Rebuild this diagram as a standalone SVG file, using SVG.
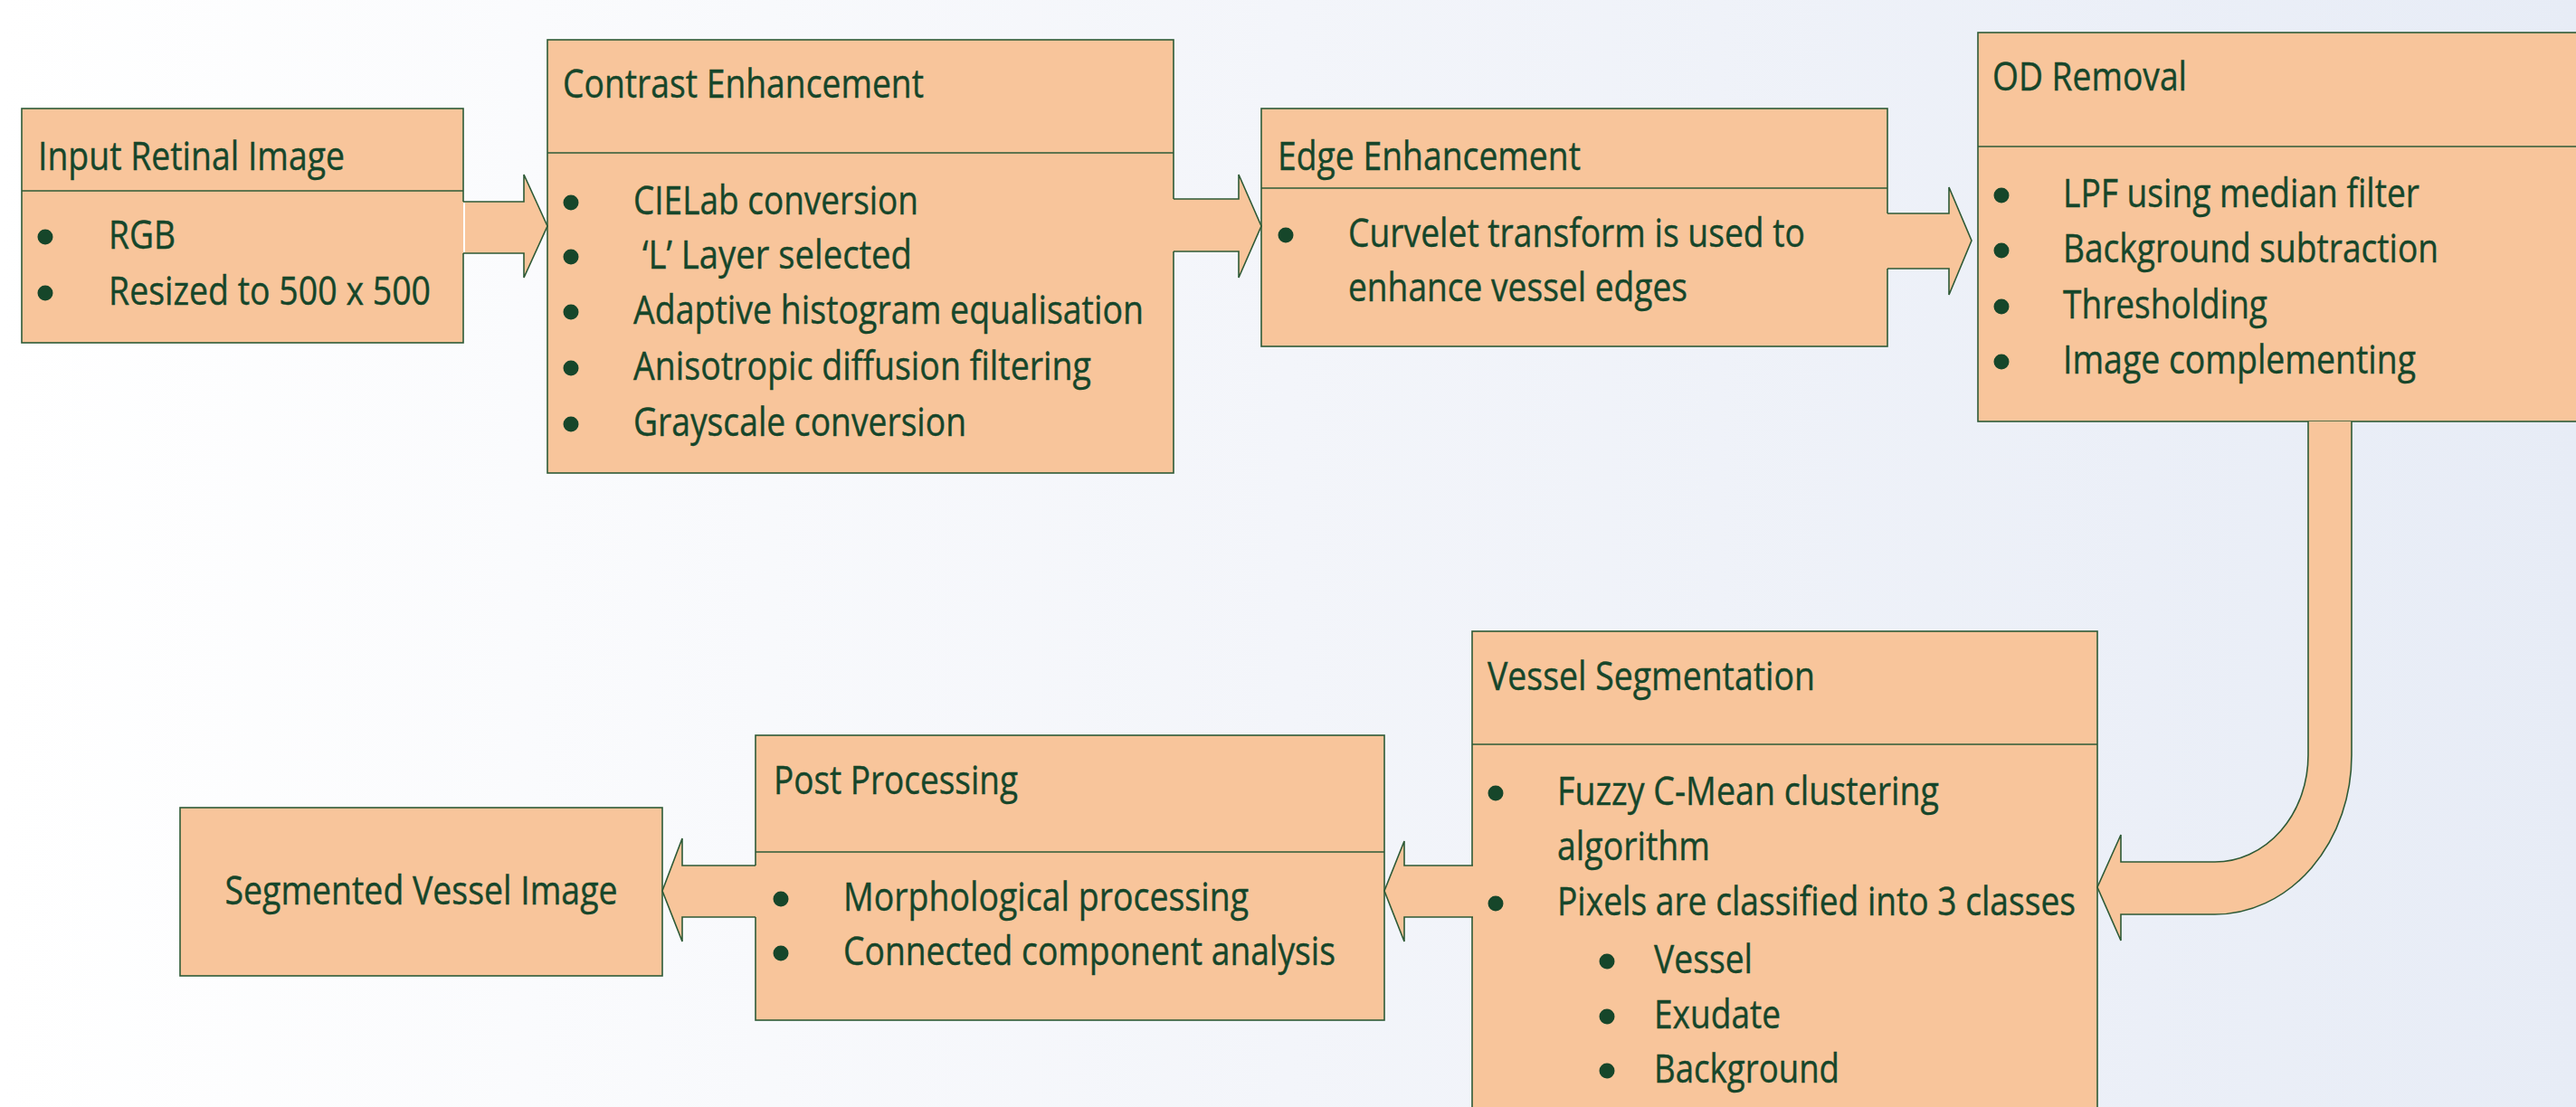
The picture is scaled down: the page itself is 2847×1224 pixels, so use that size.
<svg xmlns="http://www.w3.org/2000/svg" width="2847" height="1224" viewBox="0 0 2847 1224">
  <defs>
    <linearGradient id="bg" x1="0" y1="0" x2="1" y2="0">
      <stop offset="0" stop-color="#FFFFFF"/>
      <stop offset="0.5" stop-color="#F3F5FA"/>
      <stop offset="1" stop-color="#E7ECF6"/>
    </linearGradient>
    <style>
      .box { fill: #F8C59B; stroke: #2E5A36; stroke-width: 1.6; }
      .div { stroke: #2E5A36; stroke-width: 1.6; fill: none; }
      .arrow { fill: #F8C59B; stroke: #2E5A36; stroke-width: 1.6; stroke-linejoin: miter; }
      .cover { fill: #F8C59B; stroke: none; }
      .t { font-family: "Open Sans", "Liberation Sans", sans-serif; font-size: 43px; fill: #16462A; stroke: #16462A; stroke-width: 0.4; }
      .dot { fill: #16462A; }
    </style>
  </defs>

  <rect x="0" y="0" width="2847" height="1224" fill="url(#bg)"/>

  <!-- process boxes -->
  <g id="input-retinal-image">
    <rect class="box" x="24" y="120" width="488" height="259"/>
    <line class="div" x1="24" y1="211" x2="512" y2="211"/>
    <text class="t" x="42" y="188" textLength="339" lengthAdjust="spacingAndGlyphs">Input Retinal Image</text>
    <circle class="dot" cx="50" cy="262" r="8.5"/>
    <text class="t" x="120" y="275" textLength="74" lengthAdjust="spacingAndGlyphs">RGB</text>
    <circle class="dot" cx="50" cy="324" r="8.5"/>
    <text class="t" x="120" y="337" textLength="356" lengthAdjust="spacingAndGlyphs">Resized to 500 x 500</text>
  </g>

  <g id="contrast-enhancement">
    <rect class="box" x="605" y="44" width="692" height="479"/>
    <line class="div" x1="605" y1="169" x2="1297" y2="169"/>
    <text class="t" x="622" y="108" textLength="399" lengthAdjust="spacingAndGlyphs">Contrast Enhancement</text>
    <circle class="dot" cx="631" cy="224" r="8.5"/>
    <text class="t" x="700" y="237" textLength="315" lengthAdjust="spacingAndGlyphs">CIELab conversion</text>
    <circle class="dot" cx="631" cy="284" r="8.5"/>
    <text class="t" x="710" y="297" textLength="298" lengthAdjust="spacingAndGlyphs">‘L’ Layer selected</text>
    <circle class="dot" cx="631" cy="345" r="8.5"/>
    <text class="t" x="700" y="358" textLength="564" lengthAdjust="spacingAndGlyphs">Adaptive histogram equalisation</text>
    <circle class="dot" cx="631" cy="407" r="8.5"/>
    <text class="t" x="700" y="420" textLength="506" lengthAdjust="spacingAndGlyphs">Anisotropic diffusion filtering</text>
    <circle class="dot" cx="631" cy="469" r="8.5"/>
    <text class="t" x="700" y="482" textLength="368" lengthAdjust="spacingAndGlyphs">Grayscale conversion</text>
  </g>

  <g id="edge-enhancement">
    <rect class="box" x="1394" y="120" width="692" height="263"/>
    <line class="div" x1="1394" y1="208" x2="2086" y2="208"/>
    <text class="t" x="1412" y="188" textLength="335" lengthAdjust="spacingAndGlyphs">Edge Enhancement</text>
    <circle class="dot" cx="1421" cy="260" r="8.5"/>
    <text class="t" x="1490" y="273" textLength="505" lengthAdjust="spacingAndGlyphs">Curvelet transform is used to</text>
    <text class="t" x="1490" y="333" textLength="375" lengthAdjust="spacingAndGlyphs">enhance vessel edges</text>
  </g>

  <g id="od-removal">
    <rect class="box" x="2186" y="36" width="700" height="430"/>
    <line class="div" x1="2186" y1="162" x2="2886" y2="162"/>
    <text class="t" x="2202" y="100" textLength="215" lengthAdjust="spacingAndGlyphs">OD Removal</text>
    <circle class="dot" cx="2212" cy="216" r="8.5"/>
    <text class="t" x="2280" y="229" textLength="394" lengthAdjust="spacingAndGlyphs">LPF using median filter</text>
    <circle class="dot" cx="2212" cy="277" r="8.5"/>
    <text class="t" x="2280" y="290" textLength="415" lengthAdjust="spacingAndGlyphs">Background subtraction</text>
    <circle class="dot" cx="2212" cy="339" r="8.5"/>
    <text class="t" x="2280" y="352" textLength="226" lengthAdjust="spacingAndGlyphs">Thresholding</text>
    <circle class="dot" cx="2212" cy="400" r="8.5"/>
    <text class="t" x="2280" y="413" textLength="390" lengthAdjust="spacingAndGlyphs">Image complementing</text>
  </g>

  <g id="vessel-segmentation">
    <rect class="box" x="1627" y="698" width="691" height="600"/>
    <line class="div" x1="1627" y1="823" x2="2318" y2="823"/>
    <text class="t" x="1644" y="763" textLength="362" lengthAdjust="spacingAndGlyphs">Vessel Segmentation</text>
    <circle class="dot" cx="1653" cy="877" r="8.5"/>
    <text class="t" x="1721" y="890" textLength="422" lengthAdjust="spacingAndGlyphs">Fuzzy C-Mean clustering</text>
    <text class="t" x="1721" y="951" textLength="169" lengthAdjust="spacingAndGlyphs">algorithm</text>
    <circle class="dot" cx="1653" cy="999" r="8.5"/>
    <text class="t" x="1721" y="1012" textLength="573" lengthAdjust="spacingAndGlyphs">Pixels are classified into 3 classes</text>
    <circle class="dot" cx="1776" cy="1063" r="8.5"/>
    <text class="t" x="1828" y="1076" textLength="109" lengthAdjust="spacingAndGlyphs">Vessel</text>
    <circle class="dot" cx="1776" cy="1124" r="8.5"/>
    <text class="t" x="1828" y="1137" textLength="140" lengthAdjust="spacingAndGlyphs">Exudate</text>
    <circle class="dot" cx="1776" cy="1184" r="8.5"/>
    <text class="t" x="1828" y="1197" textLength="205" lengthAdjust="spacingAndGlyphs">Background</text>
  </g>

  <g id="post-processing">
    <rect class="box" x="835" y="813" width="695" height="315"/>
    <line class="div" x1="835" y1="942" x2="1530" y2="942"/>
    <text class="t" x="855" y="878" textLength="270" lengthAdjust="spacingAndGlyphs">Post Processing</text>
    <circle class="dot" cx="863" cy="994" r="8.5"/>
    <text class="t" x="932" y="1007" textLength="448" lengthAdjust="spacingAndGlyphs">Morphological processing</text>
    <circle class="dot" cx="863" cy="1054" r="8.5"/>
    <text class="t" x="932" y="1067" textLength="544" lengthAdjust="spacingAndGlyphs">Connected component analysis</text>
  </g>

  <g id="segmented-vessel-image">
    <rect class="box" x="199" y="893" width="533" height="186"/>
    <text class="t" x="465.5" y="1000" text-anchor="middle" textLength="434" lengthAdjust="spacingAndGlyphs">Segmented Vessel Image</text>
  </g>

  <!-- block arrows between stages -->
  <g id="connectors">
    <!-- Input -> Contrast -->
    <rect class="cover" x="510" y="223" width="70" height="57"/>
    <path class="arrow" d="M512,223 L579,223 L579,193 L605,250 L579,307 L579,280 L512,280"/>
    <line x1="513" y1="224" x2="513" y2="279" stroke="#FFFFFF" stroke-width="2"/>

    <!-- Contrast -> Edge -->
    <rect class="cover" x="1295" y="220" width="75" height="58"/>
    <path class="arrow" d="M1297,220 L1369,220 L1369,193 L1394,250 L1369,307 L1369,278 L1297,278"/>

    <!-- Edge -> OD -->
    <rect class="cover" x="2084" y="236" width="71" height="61"/>
    <path class="arrow" d="M2086,236 L2154,236 L2154,207 L2179,266 L2154,326 L2154,297 L2086,297"/>

    <!-- OD -> Vessel Segmentation (bent arrow) -->
    <path class="arrow" d="M2551,466 L2551,835 A103,118 0 0 1 2448,953 L2344,953 L2344,923 L2318,981 L2344,1040 L2344,1011 L2448,1011 A151,176 0 0 0 2599,835 L2599,466"/>

    <!-- Vessel Segmentation -> Post Processing -->
    <rect class="cover" x="1551" y="957" width="78" height="57"/>
    <path class="arrow" d="M1628,957 L1552,957 L1552,930 L1530,985 L1552,1041 L1552,1014 L1628,1014"/>

    <!-- Post Processing -> Segmented Vessel Image -->
    <rect class="cover" x="753" y="957" width="83" height="57"/>
    <path class="arrow" d="M835,957 L754,957 L754,927 L732,985 L754,1041 L754,1014 L835,1014"/>
  </g>
</svg>
